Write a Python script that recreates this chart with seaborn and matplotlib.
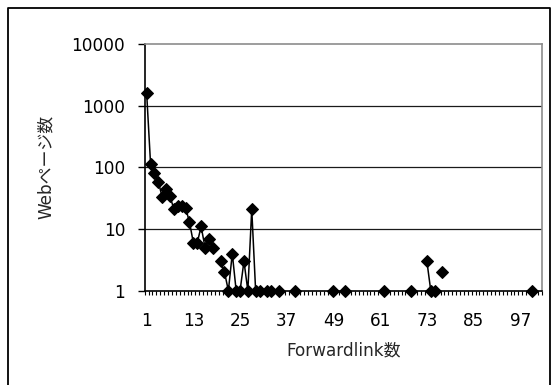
import matplotlib
matplotlib.use("Agg")
import matplotlib.pyplot as plt
import matplotlib.ticker as mticker
from matplotlib.lines import Line2D
import pandas as pd
import seaborn as sns

# forwardlink count (category) -> number of web pages
forwardlinks = [1, 2, 3, 4, 5, 6, 7, 8, 9, 10, 11, 12, 13, 14, 15, 16, 17, 18,
                20, 21, 22, 23, 24, 25, 26, 27, 28, 29, 30, 32, 33, 35, 39,
                49, 52, 62, 69, 73, 74, 75, 77, 100]
pages = [1600, 115, 82, 58, 33, 45, 34, 21, 24, 24, 22, 13, 6, 6, 11, 5, 7, 5,
         3, 2, 1, 4, 1, 1, 3, 1, 21, 1, 1, 1, 1, 1, 1,
         1, 1, 1, 1, 3, 1, 1, 2, 1]
n_categories = 102
x_tick_labels = [1, 13, 25, 37, 49, 61, 73, 85, 97]
y_ticks = [1, 10, 100, 1000, 10000]

sns.set_theme(style="white")
plt.rcParams["font.family"] = ["DejaVu Sans", "Noto Sans CJK JP"]

df = pd.DataFrame({"link": forwardlinks, "pages": pages})
# empty categories break the line, like the spreadsheet chart
df["seg"] = (df["link"].diff().fillna(1) != 1).cumsum()

fig = plt.figure(figsize=(5.54, 3.85), dpi=100)
ax = fig.add_axes([0.2612, 0.2449, 0.7166, 0.6408])

ax.set_yscale("log")
for v in y_ticks[1:-1]:
    ax.axhline(v, color="#1a1a1a", lw=0.9, zorder=1)

sns.lineplot(data=df, x="link", y="pages", units="seg", estimator=None,
             color="black", lw=1.1, marker="D", markersize=6,
             markeredgecolor="black", markerfacecolor="black",
             legend=False, ax=ax, zorder=3, clip_on=False)

ax.set_xlim(0.5, n_categories + 0.5)
ax.set_ylim(1, 10000)
ax.set_yticks(y_ticks)
ax.yaxis.set_major_formatter(mticker.FuncFormatter(lambda v, _: f"{int(round(v))}"))
ax.yaxis.set_minor_locator(mticker.NullLocator())
ax.set_xticks(x_tick_labels)
ax.set_xticklabels([str(t) for t in x_tick_labels])
ax.set_xticks([c + 0.5 for c in range(n_categories + 1)], minor=True)

ax.tick_params(axis="x", which="major", length=0, pad=15, labelsize=12.2, colors="black")
ax.tick_params(axis="x", which="minor", bottom=True, length=3, width=0.8, direction="out", color="black")
ax.tick_params(axis="y", which="major", left=True, length=5, width=1, pad=9,
               labelsize=12.2, colors="black")

for side in ("left", "bottom"):
    ax.spines[side].set_color("black")
    ax.spines[side].set_linewidth(1.2)
for side in ("top", "right"):
    ax.spines[side].set_color("#8c8c8c")
    ax.spines[side].set_linewidth(1.2)

ax.set_xlabel("Forwardlink数", fontsize=12.2)
ax.set_ylabel("Webページ数", fontsize=12.2)
ax.xaxis.set_label_coords(0.5, -0.205)
ax.yaxis.set_label_coords(-0.227, 0.5)

# outer chart border (bottom edge runs off the picture)
W, H = 554, 385
bx = [8 / W, 8 / W, 550 / W, 550 / W]
by = [0, 1 - 7.5 / H, 1 - 7.5 / H, 0]
fig.add_artist(Line2D(bx, by, color="black", lw=1.3, transform=fig.transFigure))

fig.savefig("out.png", dpi=100)
